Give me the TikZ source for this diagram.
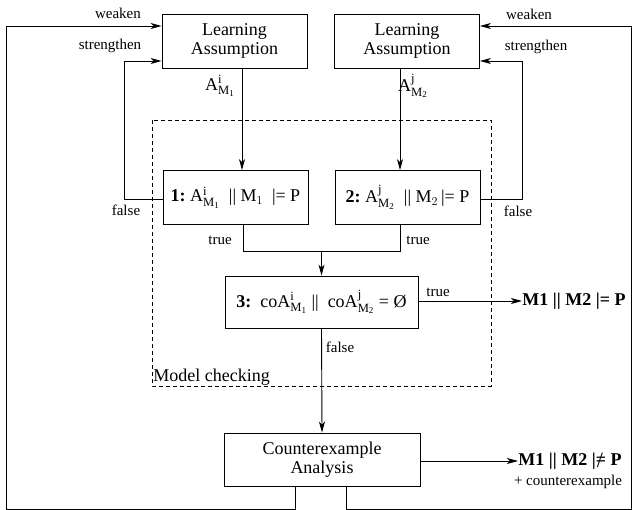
\documentclass[tikz,border=0pt]{standalone}
\usepackage{fontspec}
\setmainfont{Liberation Serif}
\usepackage{amsmath}
\usetikzlibrary{calc,arrows.meta}

% assumption with index and component
\newcommand\Asm[2]{$\mathrm{A}^{\mathrm{#1}}_{\mathrm{M}_{\mathrm{#2}}}$}
% "does not satisfy"
\newcommand\nsat{|\makebox[0pt][l]{\hspace{1pt}\raisebox{-2pt}{\mdseries\fontsize{22}{22}\selectfont/}}=}

\tikzset{
  box/.style={draw, line width=0.9pt, minimum width=145pt, minimum height=54pt,
    inner sep=0pt, align=center, font=\fontsize{18}{19}\selectfont},
  lbl/.style={font=\fontsize{15}{16}\selectfont, inner sep=0pt},
  res/.style={font=\fontsize{18}{19}\selectfont\bfseries, inner sep=0pt}
}

\begin{document}
\begin{tikzpicture}[x=1pt, y=-1pt, >={Stealth[length=11pt,width=6pt,inset=3pt]},
  line width=0.9pt]

\useasboundingbox (0,0) rectangle (632,510);

% Parameters
\def\xl{6}      % outer loop, left
\def\xr{631}    % outer loop, right
\def\yb{509}    % outer loop, bottom
\def\yw{26}     % weaken level
\def\ys{61}     % strengthen level
\def\yt{251}    % join of the true branches

% Learning boxes
\node[box] (la1) at (234.5,41) {Learning\\Assumption};
\node[box] (la2) at (407,41) {Learning\\Assumption};

% Model checking region
\draw[dash pattern=on 4pt off 3pt] (152,120) rectangle (491,386);
\node[font=\fontsize{18}{19}\selectfont, inner sep=0pt, anchor=west] (mc) at (153,377) {Model checking};

% Premises
\node[box] (c1) at (235.5,197.5) {\textbf{1:}\ \Asm{i}{1}\ \ ||\ M$_1$\ \ |= P};
\node[box] (c2) at (407.5,197.5) {\textbf{2:}\ \Asm{j}{2}\ \ ||\ M$_2$\,|= P};
\node[box, minimum width=193pt, minimum height=52pt] (c3) at (321.5,302)
  {\textbf{3:}\ \ co\Asm{i}{1}\ ||\ \ co\Asm{j}{2}\ = Ø};

% Counterexample
\node[box, minimum width=196pt, minimum height=53pt] (ce) at (322,459.5) {Counterexample\\Analysis};

% Results
\node[res] (ok) at (574,301) {M1 || M2 |= P};
\node[res] (bad) at (570,461) {M1 || M2 \nsat{} P};
\node[lbl] (cex) at (568,482) {+ counterexample};

% Assumptions into the premises
\coordinate (a1) at ($(la1.south)+(7.5,0)$);
\coordinate (a2) at ($(la2.south)+(-7,0)$);
\draw[->] (a1) -- (a1 |- c1.north);
\draw[->] (a2) -- (a2 |- c2.north);
\node[lbl, font=\fontsize{18}{19}\selectfont] (al1) at (220,86) {\Asm{i}{1}};
\node[lbl, font=\fontsize{18}{19}\selectfont] (al2) at (413,86) {\Asm{j}{2}};

% false: strengthen
\draw[->] ($(c1.west)+(0,1.5)$) -| (124,\ys) -- (la1.west |- 0,\ys);
\draw[->] ($(c2.east)+(0,1.5)$) -| (522,\ys) -- (la2.east |- 0,\ys);
\node[lbl] (f1) at (126,210) {false};
\node[lbl] (f2) at (518,211) {false};
\node[lbl] (s1) at (110,46) {strengthen};
\node[lbl] (s2) at (536,47) {strengthen};

% true branches
\coordinate (t1) at ($(c1.south)+(7.5,0)$);
\coordinate (t2) at ($(c2.south)+(-7.5,0)$);
\draw (t1) -- (t1 |- 0,\yt) -- (t2 |- 0,\yt) -- (t2);
\draw[->] (c3.north |- 0,\yt) -- (c3.north);
\node[lbl] (tr1) at (220,240) {true};
\node[lbl] (tr2) at (418,240) {true};

% premise 3
\draw[->] ($(c3.east)+(0,-1)$) -- (ok.west |- 0,301);
\node[lbl] (tr3) at (438,292) {true};
\draw[->] (c3.south) -- (ce.north);
\node[lbl] (f3) at (340,347) {false};

% counterexample out
\draw[->] ($(ce.east)+(0,1.5)$) -- (bad.west |- 0,461);

% weaken loops
\coordinate (w1) at ($(ce.south)+(-27,0)$);
\coordinate (w2) at ($(ce.south)+(24,0)$);
\draw[->] (w1) -- (w1 |- 0,\yb) -- (\xl,\yb) -- (\xl,\yw) -- (la1.west |- 0,\yw);
\draw[->] (w2) -- (w2 |- 0,\yb) -- (\xr,\yb) -- (\xr,\yw) -- (la2.east |- 0,\yw);
\node[lbl] (wk1) at (118,13) {weaken};
\node[lbl] (wk2) at (529,14) {weaken};

\end{tikzpicture}
\end{document}
